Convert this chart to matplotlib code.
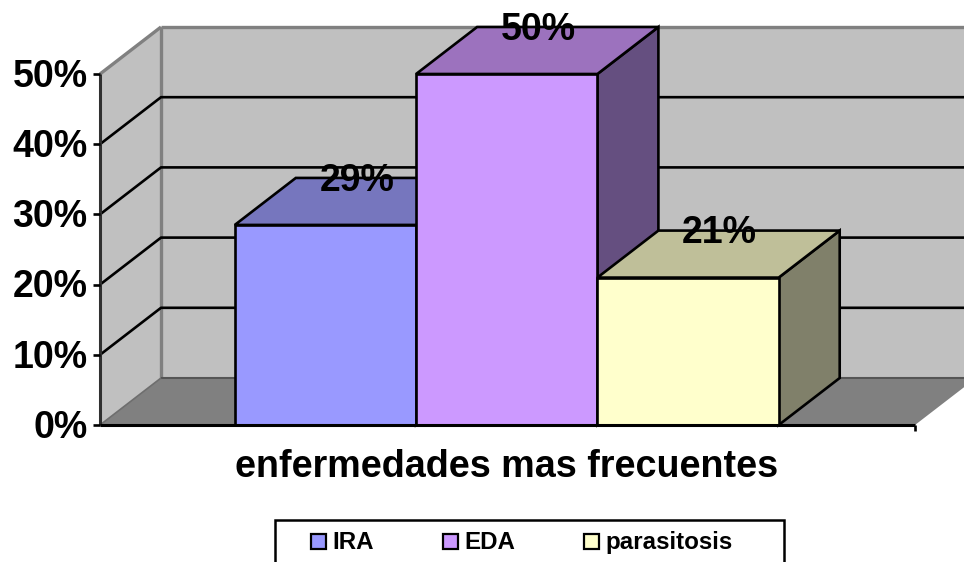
import matplotlib
matplotlib.use("Agg")
import matplotlib.pyplot as plt
from matplotlib.patches import Polygon, Rectangle

plt.rcParams['font.family'] = ['Liberation Sans', 'DejaVu Sans']

categories = ['IRA', 'EDA', 'parasitosis']
values = [0.285, 0.50, 0.21]
value_labels = ['29%', '50%', '21%']
y_ticks = [0.0, 0.1, 0.2, 0.3, 0.4, 0.5]
y_tick_labels = ['0%', '10%', '20%', '30%', '40%', '50%']
x_title = 'enfermedades mas frecuentes'
front_colors = ['#9999FF', '#CC99FF', '#FFFFCC']
top_colors = ['#7676BE', '#9C72BE', '#BFBF99']
side_colors = ['#4D4D80', '#654F80', '#80806A']

W, H = 964, 562
fig = plt.figure(figsize=(W / 100, H / 100), dpi=100, facecolor='white')
ax = fig.add_axes([100 / W, (H - 425) / H, 815 / W, 351 / H])
ax.set_xlim(0, 815)
ax.set_ylim(0, 0.5)
ax.axis('off')

# depth of the 3-D projection, in data units
DX = 61
DY = 47 / 351 * 0.5
BAR_W = 181.3
X0 = 134.8
LW = 1.9


def poly(pts, color, ec='black', lw=LW, z=2):
    ax.add_patch(Polygon(pts, closed=True, facecolor=color, edgecolor=ec, linewidth=lw,
                         zorder=z, clip_on=False, joinstyle='miter'))


def line(xs, ys, color='black', lw=LW, z=3):
    ax.plot(xs, ys, color=color, lw=lw, zorder=z, clip_on=False, solid_capstyle='butt')


# walls and floor
poly([(DX, DY), (815 + DX, DY), (815 + DX, 0.5 + DY), (DX, 0.5 + DY)], '#C0C0C0', ec='none', z=1)
poly([(0, 0), (DX, DY), (DX, 0.5 + DY), (0, 0.5)], '#C0C0C0', ec='none', z=1)
poly([(0, 0), (815, 0), (815 + DX, DY), (DX, DY)], '#808080', ec='none', z=1)
line([0, DX], [0.5, 0.5 + DY], '#808080', 2.4, 1.5)
line([DX, 815 + DX], [0.5 + DY, 0.5 + DY], '#808080', 2.4, 1.5)
line([DX, DX], [DY, 0.5 + DY], '#808080', 2.4, 1.5)
line([DX, 815 + DX], [DY, DY], '#555555', 1.5, 1.5)
line([0, DX], [0, DY], '#6E6E6E', 1.2, 1.5)

# grid
for t in y_ticks[1:-1]:
    line([0, DX, 815 + DX], [t, t + DY, t + DY], 'black', LW, 1.6)

# bars
for i, (v, fc, tc, sc) in enumerate(zip(values, front_colors, top_colors, side_colors)):
    l = X0 + i * BAR_W
    r = l + BAR_W
    poly([(r, 0), (r + DX, DY), (r + DX, v + DY), (r, v)], sc, z=4 + i)
    poly([(l, v), (r, v), (r + DX, v + DY), (l + DX, v + DY)], tc, z=4 + i)
    poly([(l, 0), (r, 0), (r, v), (l, v)], fc, z=4 + i)

# axes lines and ticks
line([0, 0], [0, 0.5], '#303030', 2.2, 10)
line([0, 815], [0, 0], 'black', 2.2, 10)
TICK = 6 / 351 * 0.5
for t in y_ticks:
    line([-7, 0], [t, t], 'black', LW, 10)
line([815, 815], [0, -TICK], 'black', LW, 10)

FS = 27
for t, lab in zip(y_ticks, y_tick_labels):
    ax.text(-12.5, t - 0.004, lab, ha='right', va='center', fontsize=FS, fontweight='bold', zorder=20)

for i, (v, lab) in enumerate(zip(values, value_labels)):
    ax.text(X0 + (i + 0.5) * BAR_W + DX / 2 + 1, v + DY - 0.004, lab, ha='center', va='center',
            fontsize=FS, fontweight='bold', zorder=20, clip_on=False)

fig.text(506.5 / W, 1 - 467 / H, x_title, ha='center', va='center', fontsize=27.2, fontweight='bold')

# legend
fig.add_artist(Rectangle((274.5 / W, 1 - 580 / H), 509 / W, 60 / H, transform=fig.transFigure,
                         facecolor='white', edgecolor='black', linewidth=1.8))
sx = [311, 443, 584]
for x, c, lab in zip(sx, front_colors, categories):
    fig.add_artist(Rectangle((x / W, 1 - 549 / H), 15 / W, 15 / H, transform=fig.transFigure,
                             facecolor=c, edgecolor='black', linewidth=1.6))
    fig.text((x + 21.5) / W, 1 - 542.5 / H, lab, ha='left', va='center', fontsize=17.4, fontweight='bold')

fig.savefig('out.png', dpi=100)
